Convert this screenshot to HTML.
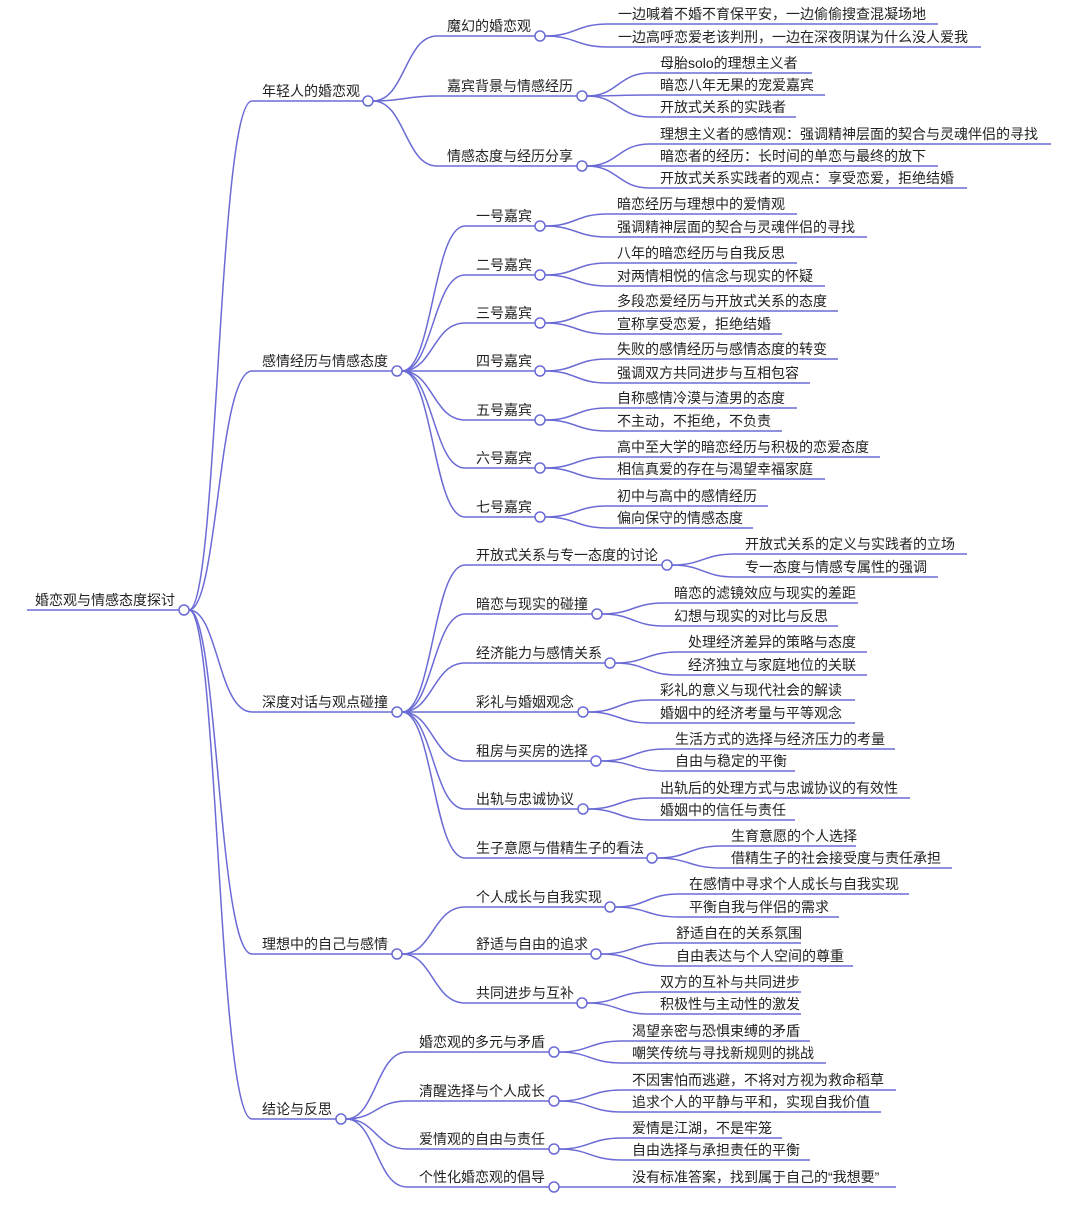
<!DOCTYPE html>
<html><head><meta charset="utf-8"><style>
html,body{margin:0;padding:0;background:#fff;}
svg{display:block;}
text{font-family:"Liberation Sans","Noto Sans CJK SC",sans-serif;font-size:14px;fill:#222;}
path{fill:none;stroke:#6b6bd6;stroke-width:1.5;}
circle{fill:#fff;stroke:#6b6bd6;stroke-width:1.5;}
</style></head><body>
<svg width="1076" height="1212" viewBox="0 0 1076 1212" xmlns="http://www.w3.org/2000/svg">
<!-- root -->
<path d="M27 610 H179"/>
<text x="35" y="605">婚恋观与情感态度探讨</text>
<path d="M189 610 C218 610 218 101 252 101 H363"/>
<path d="M189 610 C218 610 218 371 252 371 H392"/>
<path d="M189 610 C218 610 218 712 252 712 H392"/>
<path d="M189 610 C218 610 218 954 252 954 H392"/>
<path d="M189 610 C218 610 218 1119 252 1119 H336"/>
<text x="262" y="96">年轻人的婚恋观</text>
<text x="262" y="366">感情经历与情感态度</text>
<text x="262" y="707">深度对话与观点碰撞</text>
<text x="262" y="949">理想中的自己与感情</text>
<text x="262" y="1114">结论与反思</text>

<!-- 年轻人 -->
<path d="M373 101 C405 101 405 36 437 36 H535"/>
<path d="M373 101 C405 101 405 96 437 96 H577"/>
<path d="M373 101 C405 101 405 166 437 166 H577"/>
<text x="447" y="31">魔幻的婚恋观</text>
<text x="447" y="91">嘉宾背景与情感经历</text>
<text x="447" y="161">情感态度与经历分享</text>
<path d="M545 36 C576 36 576 24 608 24 H938"/>
<path d="M545 36 C576 36 576 47 608 47 H981"/>
<text x="618" y="19">一边喊着不婚不育保平安，一边偷偷搜查混凝场地</text>
<text x="618" y="42">一边高呼恋爱老该判刑，一边在深夜阴谋为什么没人爱我</text>
<path d="M587 96 C618 96 618 73 650 73 H812"/>
<path d="M587 96 C618 96 618 95 650 95 H825"/>
<path d="M587 96 C618 96 618 117 650 117 H796"/>
<text x="660" y="68">母胎solo的理想主义者</text>
<text x="660" y="90">暗恋八年无果的宠爱嘉宾</text>
<text x="660" y="112">开放式关系的实践者</text>
<path d="M587 166 C618 166 618 144 650 144 H1051"/>
<path d="M587 166 C618 166 618 166 650 166 H938"/>
<path d="M587 166 C618 166 618 188 650 188 H967"/>
<text x="660" y="139">理想主义者的感情观：强调精神层面的契合与灵魂伴侣的寻找</text>
<text x="660" y="161">暗恋者的经历：长时间的单恋与最终的放下</text>
<text x="660" y="183">开放式关系实践者的观点：享受恋爱，拒绝结婚</text>

<!-- 感情经历 -->
<path d="M402 371 C433 371 433 226 465 226 H535"/>
<path d="M402 371 C433 371 433 275 465 275 H535"/>
<path d="M402 371 C433 371 433 323 465 323 H535"/>
<path d="M402 371 C433 371 433 371 465 371 H535"/>
<path d="M402 371 C433 371 433 420 465 420 H535"/>
<path d="M402 371 C433 371 433 468 465 468 H535"/>
<path d="M402 371 C433 371 433 517 465 517 H535"/>
<text x="476" y="221">一号嘉宾</text>
<text x="476" y="270">二号嘉宾</text>
<text x="476" y="318">三号嘉宾</text>
<text x="476" y="366">四号嘉宾</text>
<text x="476" y="415">五号嘉宾</text>
<text x="476" y="463">六号嘉宾</text>
<text x="476" y="512">七号嘉宾</text>
<path d="M545 226 C576 226 576 214 607 214 H797"/><path d="M545 226 C576 226 576 237 607 237 H867"/>
<text x="617" y="209">暗恋经历与理想中的爱情观</text><text x="617" y="232">强调精神层面的契合与灵魂伴侣的寻找</text>
<path d="M545 275 C576 275 576 263 607 263 H797"/><path d="M545 275 C576 275 576 286 607 286 H825"/>
<text x="617" y="258">八年的暗恋经历与自我反思</text><text x="617" y="281">对两情相悦的信念与现实的怀疑</text>
<path d="M545 323 C576 323 576 311 607 311 H838"/><path d="M545 323 C576 323 576 334 607 334 H782"/>
<text x="617" y="306">多段恋爱经历与开放式关系的态度</text><text x="617" y="329">宣称享受恋爱，拒绝结婚</text>
<path d="M545 371 C576 371 576 359 607 359 H838"/><path d="M545 371 C576 371 576 383 607 383 H810"/>
<text x="617" y="354">失败的感情经历与感情态度的转变</text><text x="617" y="378">强调双方共同进步与互相包容</text>
<path d="M545 420 C576 420 576 408 607 408 H797"/><path d="M545 420 C576 420 576 431 607 431 H782"/>
<text x="617" y="403">自称感情冷漠与渣男的态度</text><text x="617" y="426">不主动，不拒绝，不负责</text>
<path d="M545 468 C576 468 576 457 607 457 H880"/><path d="M545 468 C576 468 576 479 607 479 H825"/>
<text x="617" y="452">高中至大学的暗恋经历与积极的恋爱态度</text><text x="617" y="474">相信真爱的存在与渴望幸福家庭</text>
<path d="M545 517 C576 517 576 506 607 506 H768"/><path d="M545 517 C576 517 576 528 607 528 H753"/>
<text x="617" y="501">初中与高中的感情经历</text><text x="617" y="523">偏向保守的情感态度</text>

<!-- 深度对话 -->
<path d="M402 712 C433 712 433 565 465 565 H662"/>
<path d="M402 712 C433 712 433 614 465 614 H592"/>
<path d="M402 712 C433 712 433 663 465 663 H605"/>
<path d="M402 712 C433 712 433 712 465 712 H578"/>
<path d="M402 712 C433 712 433 761 465 761 H591"/>
<path d="M402 712 C433 712 433 809 465 809 H578"/>
<path d="M402 712 C433 712 433 858 465 858 H647"/>
<text x="476" y="560">开放式关系与专一态度的讨论</text>
<text x="476" y="609">暗恋与现实的碰撞</text>
<text x="476" y="658">经济能力与感情关系</text>
<text x="476" y="707">彩礼与婚姻观念</text>
<text x="476" y="756">租房与买房的选择</text>
<text x="476" y="804">出轨与忠诚协议</text>
<text x="476" y="853">生子意愿与借精生子的看法</text>
<path d="M672 565 C703 565 703 554 735 554 H967"/><path d="M672 565 C703 565 703 577 735 577 H938"/>
<text x="745" y="549">开放式关系的定义与实践者的立场</text><text x="745" y="572">专一态度与情感专属性的强调</text>
<path d="M602 614 C633 614 633 603 664 603 H858"/><path d="M602 614 C633 614 633 626 664 626 H838"/>
<text x="674" y="598">暗恋的滤镜效应与现实的差距</text><text x="674" y="621">幻想与现实的对比与反思</text>
<path d="M615 663 C646 663 646 652 678 652 H867"/><path d="M615 663 C646 663 646 675 678 675 H867"/>
<text x="688" y="647">处理经济差异的策略与态度</text><text x="688" y="670">经济独立与家庭地位的关联</text>
<path d="M588 712 C619 712 619 700 650 700 H855"/><path d="M588 712 C619 712 619 723 650 723 H855"/>
<text x="660" y="695">彩礼的意义与现代社会的解读</text><text x="660" y="718">婚姻中的经济考量与平等观念</text>
<path d="M601 761 C633 761 633 749 665 749 H895"/><path d="M601 761 C633 761 633 771 665 771 H795"/>
<text x="675" y="744">生活方式的选择与经济压力的考量</text><text x="675" y="766">自由与稳定的平衡</text>
<path d="M588 809 C619 809 619 798 650 798 H910"/><path d="M588 809 C619 809 619 820 650 820 H795"/>
<text x="660" y="793">出轨后的处理方式与忠诚协议的有效性</text><text x="660" y="815">婚姻中的信任与责任</text>
<path d="M657 858 C689 858 689 846 721 846 H856"/><path d="M657 858 C689 858 689 868 721 868 H952"/>
<text x="731" y="841">生育意愿的个人选择</text><text x="731" y="863">借精生子的社会接受度与责任承担</text>

<!-- 理想 -->
<path d="M402 954 C433 954 433 907 465 907 H605"/>
<path d="M402 954 C433 954 433 954 465 954 H591"/>
<path d="M402 954 C433 954 433 1003 465 1003 H577"/>
<text x="476" y="902">个人成长与自我实现</text>
<text x="476" y="949">舒适与自由的追求</text>
<text x="476" y="998">共同进步与互补</text>
<path d="M615 907 C647 907 647 894 679 894 H909"/><path d="M615 907 C647 907 647 917 679 917 H839"/>
<text x="689" y="889">在感情中寻求个人成长与自我实现</text><text x="689" y="912">平衡自我与伴侣的需求</text>
<path d="M601 954 C633 954 633 943 666 943 H801"/><path d="M601 954 C633 954 633 966 666 966 H853"/>
<text x="676" y="938">舒适自在的关系氛围</text><text x="676" y="961">自由表达与个人空间的尊重</text>
<path d="M587 1003 C618 1003 618 992 650 992 H801"/><path d="M587 1003 C618 1003 618 1014 650 1014 H801"/>
<text x="660" y="987">双方的互补与共同进步</text><text x="660" y="1009">积极性与主动性的激发</text>

<!-- 结论 -->
<path d="M346 1119 C376 1119 376 1052 407 1052 H549"/>
<path d="M346 1119 C376 1119 376 1101 407 1101 H549"/>
<path d="M346 1119 C376 1119 376 1149 407 1149 H549"/>
<path d="M346 1119 C376 1119 376 1187 407 1187 H549"/>
<text x="419" y="1047">婚恋观的多元与矛盾</text>
<text x="419" y="1096">清醒选择与个人成长</text>
<text x="419" y="1144">爱情观的自由与责任</text>
<text x="419" y="1182">个性化婚恋观的倡导</text>
<path d="M559 1052 C590 1052 590 1041 622 1041 H810"/><path d="M559 1052 C590 1052 590 1063 622 1063 H826"/>
<text x="632" y="1036">渴望亲密与恐惧束缚的矛盾</text><text x="632" y="1058">嘲笑传统与寻找新规则的挑战</text>
<path d="M559 1101 C590 1101 590 1090 622 1090 H896"/><path d="M559 1101 C590 1101 590 1112 622 1112 H881"/>
<text x="632" y="1085">不因害怕而逃避，不将对方视为救命稻草</text><text x="632" y="1107">追求个人的平静与平和，实现自我价值</text>
<path d="M559 1149 C590 1149 590 1138 622 1138 H782"/><path d="M559 1149 C590 1149 590 1160 622 1160 H810"/>
<text x="632" y="1133">爱情是江湖，不是牢笼</text><text x="632" y="1155">自由选择与承担责任的平衡</text>
<path d="M559 1187 H896"/>
<text x="632" y="1182">没有标准答案，找到属于自己的“我想要”</text>

<!-- circles -->
<circle cx="184" cy="610" r="5"/>
<circle cx="368" cy="101" r="5"/><circle cx="397" cy="371" r="5"/><circle cx="397" cy="712" r="5"/><circle cx="397" cy="954" r="5"/><circle cx="341" cy="1119" r="5"/>
<circle cx="540" cy="36" r="5"/><circle cx="582" cy="96" r="5"/><circle cx="582" cy="166" r="5"/>
<circle cx="540" cy="226" r="5"/><circle cx="540" cy="275" r="5"/><circle cx="540" cy="323" r="5"/><circle cx="540" cy="371" r="5"/><circle cx="540" cy="420" r="5"/><circle cx="540" cy="468" r="5"/><circle cx="540" cy="517" r="5"/>
<circle cx="667" cy="565" r="5"/><circle cx="597" cy="614" r="5"/><circle cx="610" cy="663" r="5"/><circle cx="583" cy="712" r="5"/><circle cx="596" cy="761" r="5"/><circle cx="583" cy="809" r="5"/><circle cx="652" cy="858" r="5"/>
<circle cx="610" cy="907" r="5"/><circle cx="596" cy="954" r="5"/><circle cx="582" cy="1003" r="5"/>
<circle cx="554" cy="1052" r="5"/><circle cx="554" cy="1101" r="5"/><circle cx="554" cy="1149" r="5"/><circle cx="554" cy="1187" r="5"/>
</svg>
</body></html>
